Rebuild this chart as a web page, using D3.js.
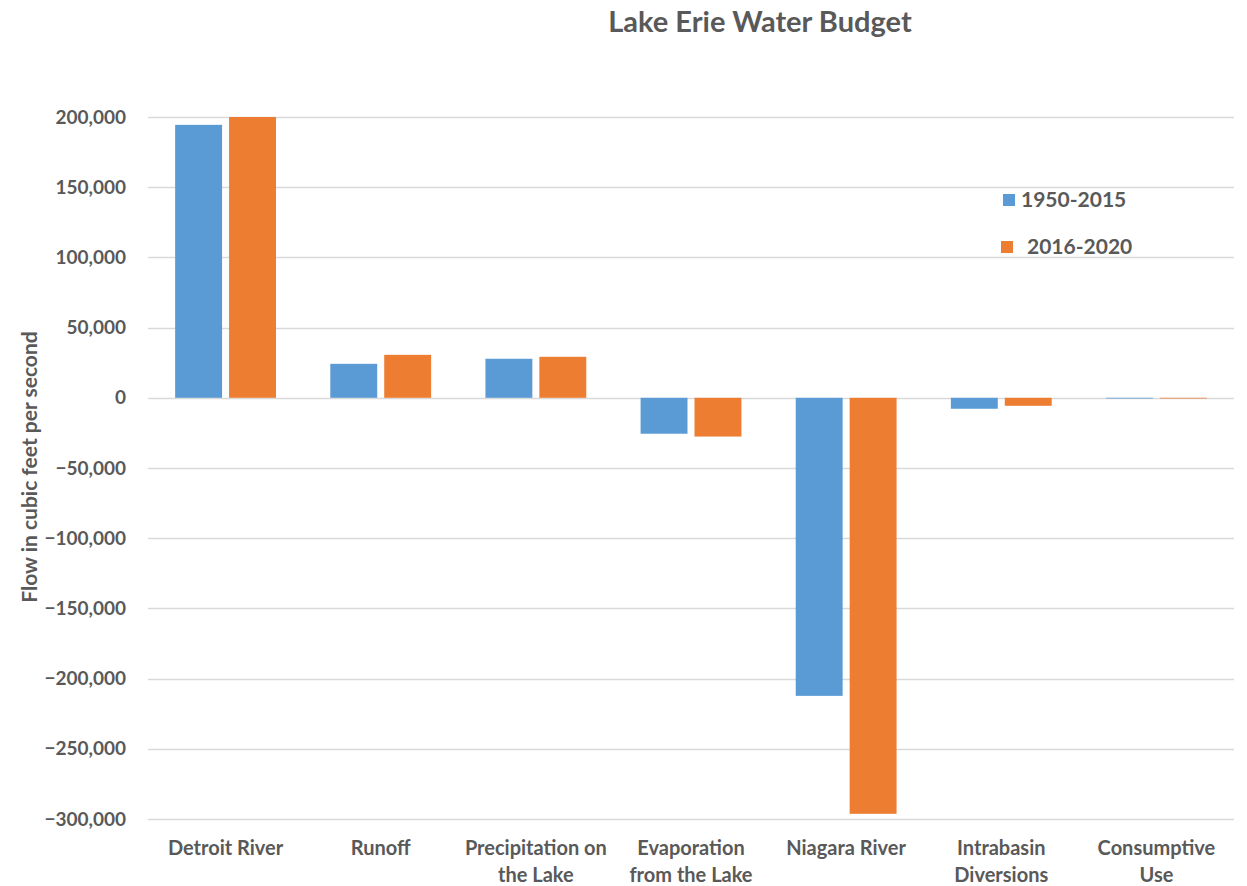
<!DOCTYPE html>
<html>
<head>
<meta charset="utf-8">
<script src="https://cdn.jsdelivr.net/npm/d3@7"></script>
<style>
  body { margin: 0; background: #fff; }
  svg text { font-family: Lato, "Open Sans", sans-serif; font-weight: bold; fill: #595959; }
</style>
</head>
<body>
<svg id="canvas" width="1247" height="886"></svg>
<script>
var categories = [
    ["Detroit River"],
    ["Runoff"],
    ["Precipitation on", "the Lake"],
    ["Evaporation", "from the Lake"],
    ["Niagara River"],
    ["Intrabasin", "Diversions"],
    ["Consumptive", "Use"]
];
var seriesNames = ["1950-2015", "2016-2020"];
var hist = [194400, 24200, 27800, -25600, -212300, -7800, -500];
var recent = [200000, 30600, 29200, -27600, -296300, -5700, -500];
var yTicks = [200000, 150000, 100000, 50000, 0, -50000, -100000, -150000, -200000, -250000, -300000];
var colors = ["#5b9bd5", "#ed7d31"];

var svg = d3.select('#canvas');

var plotLeft = 148, plotRight = 1234, plotTop = 117, plotBottom = 819;

var x = d3.scaleBand()
    .domain(d3.range(categories.length))
    .range([plotLeft, plotRight])
    .paddingInner(0.35)
    .paddingOuter(0.175);

var inner = d3.scaleBand()
    .domain([0, 1])
    .range([0, x.bandwidth()])
    .paddingInner(0.13);

var y = d3.scaleLinear()
    .domain([-300000, 200000])
    .range([plotBottom, plotTop]);

// gridlines
svg.append('g')
    .selectAll('line')
    .data(yTicks)
    .enter()
    .append('line')
    .attr('x1', plotLeft)
    .attr('x2', plotRight)
    .attr('y1', function(d) { return Math.round(y(d)) + 0.5; })
    .attr('y2', function(d) { return Math.round(y(d)) + 0.5; })
    .style('stroke', '#d9d9d9')
    .style('stroke-width', 1.5);

// y axis labels
var yAxis = d3.axisLeft(y)
    .tickValues(yTicks)
    .tickSize(0)
    .tickPadding(0)
    .tickFormat(d3.format(','));

var gy = svg.append('g')
    .attr('transform', 'translate(126,0)')
    .call(yAxis);
gy.select('.domain').remove();
gy.selectAll('text')
    .attr('fill', '#595959')
    .attr('font-family', null)
    .style('font-size', '19px');

// bars
var series = [hist, recent];
series.forEach(function(vals, s) {
    svg.append('g')
        .selectAll('rect')
        .data(vals)
        .enter()
        .append('rect')
        .attr('x', function(d, i) { return x(i) + inner(s); })
        .attr('width', inner.bandwidth())
        .attr('y', function(d) { return Math.min(y(d), y(0)); })
        .attr('height', function(d) { return Math.max(Math.abs(y(d) - y(0)), 0.6); })
        .style('fill', colors[s]);
});

// x labels
var xl = svg.append('g')
    .selectAll('text')
    .data(categories)
    .enter()
    .append('text')
    .attr('x', function(d, i) { return x(i) + x.bandwidth() / 2; })
    .attr('y', 855)
    .attr('text-anchor', 'middle')
    .style('font-size', '20px');
xl.selectAll('tspan')
    .data(function(d) { return d; })
    .enter()
    .append('tspan')
    .attr('x', function() { return d3.select(this.parentNode).attr('x'); })
    .attr('dy', function(d, i) { return i === 0 ? 0 : 27; })
    .text(function(d) { return d; });

// title
svg.append('text')
    .attr('x', 760)
    .attr('y', 32)
    .attr('text-anchor', 'middle')
    .style('font-size', '29px')
    .text('Lake Erie Water Budget');

// y axis title
svg.append('text')
    .attr('transform', 'translate(37,467) rotate(-90)')
    .attr('text-anchor', 'middle')
    .style('font-size', '21px')
    .text('Flow in cubic feet per second');

// legend
var legendPos = [[1003, 200], [1001, 247]];
var textPos = [1021, 1027];
seriesNames.forEach(function(name, s) {
    svg.append('rect')
        .attr('x', legendPos[s][0])
        .attr('y', legendPos[s][1] - 6)
        .attr('width', 12)
        .attr('height', 12)
        .style('fill', colors[s]);
    svg.append('text')
        .attr('x', textPos[s])
        .attr('y', legendPos[s][1] + 7)
        .style('font-size', '21px')
        .text(name);
});
</script>
</body>
</html>
